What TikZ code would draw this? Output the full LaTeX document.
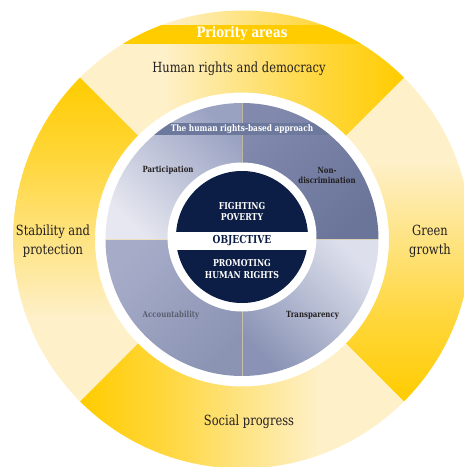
\documentclass[tikz,border=0pt]{standalone}
\usepackage{fontspec}
\usepackage{tikz}
\newfontfamily\slabfont[FakeStretch=0.82]{DejaVu Serif}% narrow slab serif
\definecolor{gold}{RGB}{255,204,0}
\definecolor{cream}{RGB}{254,240,201}
\definecolor{navy}{RGB}{12,30,70}
\definecolor{bandblue}{RGB}{108,120,156}
\definecolor{ink}{RGB}{35,31,32}
\definecolor{fog}{RGB}{91,96,112}
\pgfdeclareverticalshading{ringfade}{100bp}{color(0bp)=(gold); color(25bp)=(gold);
  color(38bp)=(gold!70!cream); color(50bp)=(gold!35!cream); color(62bp)=(cream); color(100bp)=(cream)}
\tikzset{every node/.style={font=\slabfont, text=ink, align=center, inner sep=0pt},
  area/.style={font=\slabfont\fontsize{14}{19}\selectfont},
  principle/.style={font=\slabfont\bfseries\fontsize{8.5}{10}\selectfont},
  heading/.style={font=\slabfont\bfseries\fontsize{9.5}{11.5}\selectfont, text=white}}
\newcommand{\ringpart}[1]
{\shade[shading=ringfade, shading angle=#1]
    ({#1-45}:147) arc[start angle=#1-45, end angle=#1+45, radius=147]
    -- ({#1+45}:229) arc[start angle=#1+45, end angle=#1-45, radius=229] -- cycle;}
\newcommand{\quarter}[4]
{\shade[top color=#3, bottom color=#4, shading angle=#2]
    (0,0) -- (#1:136.5) arc[start angle=#1, end angle=#1+90, radius=136.5] -- cycle;}

\begin{document}
\begin{tikzpicture}[x=1pt,y=1pt]
\useasboundingbox (-242,-227.5) rectangle (222,239.5);
\clip (-242,-227.5) rectangle (222,239.5);
% priority areas
\foreach \m in {0,90,180,270} \ringpart{\m};
\begin{scope}
  \clip (0,0) circle (229);
  \fill[gold] (-229,195.5) rectangle (229,214.5);
\end{scope}
\node[font=\slabfont\bfseries\fontsize{14.5}{16}\selectfont, text=white]
    (priority) at (0,205.5) {Priority areas};
\node[area] (democracy) at (-3,170.5) {Human rights and democracy};
\node[area] (stability) at (-189,-1.5) {Stability and\\protection};
\node[area] (green) at (188,-1.5) {Green\\growth};
\node[area] (social) at (7,-182.5) {Social progress};
% the human rights-based approach
\foreach \a/\ang/\c/\d in {90/-45/{rgb,255:red,154;green,162;blue,194}/{rgb,255:red,230;green,231;blue,240},
    0/45/{rgb,255:red,129;green,137;blue,173}/{rgb,255:red,106;green,117;blue,153},
    180/45/{rgb,255:red,166;green,172;blue,200}/{rgb,255:red,140;green,148;blue,180},
    270/-45/{rgb,255:red,221;green,224;blue,236}/{rgb,255:red,138;green,147;blue,181}}
  \quarter{\a}{\ang}{\c}{\d};
\draw[line width=0.3pt, gold!40!white, opacity=0.5] (0,-136.5) -- (0,136.5) (-136.5,0.5) -- (136.5,0.5);
\begin{scope}
  \clip (0,0) circle (136.5);
  \fill[bandblue] (-140,104.5) rectangle (140,116.5);
\end{scope}
\node[principle, text=white, font=\slabfont\bfseries\fontsize{9}{10}\selectfont]
    (approach) at (0,110.5) {The human rights-based approach};
\node[principle] (participation) at (-74,69.5) {Participation};
\node[principle] (nondiscr) at (85,64.5) {Non-\\discrimination};
\node[principle, text=fog] (accountability) at (-71,-75.5) {Accountability};
\node[principle] (transparency) at (70.5,-75.5) {Transparency};
% objective
\fill[white] (0,2.5) circle (74.5);
\fill[navy] (0,2.5) circle (66);
\fill[white] (-70,-10.5) rectangle (70,7.5);
\node[heading] (fighting) at (0,28) {FIGHTING\\POVERTY};
\node[heading, text=navy, font=\slabfont\bfseries\fontsize{11}{12}\selectfont]
    (objective) at (0,-1.5) {OBJECTIVE};
\node[heading] (promoting) at (0,-29.5) {PROMOTING\\HUMAN RIGHTS};
\end{tikzpicture}
\end{document}
